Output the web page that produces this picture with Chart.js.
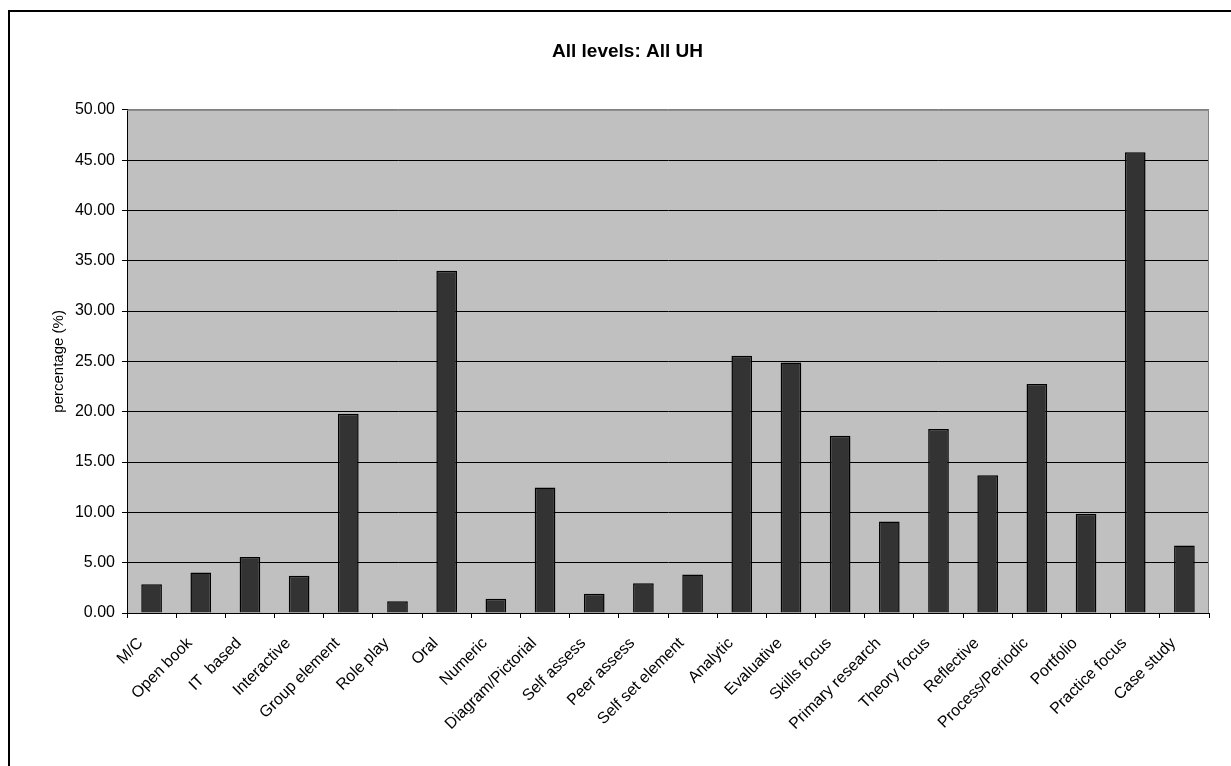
<!DOCTYPE html>
<html>
<head>
<meta charset="utf-8">
<script src="https://cdn.jsdelivr.net/npm/chart.js@4"></script>
<style>
    body { margin: 0; background: #fff; overflow: hidden; }
    #frame {
        position: absolute; left: 0; top: 0; width: 1231px; height: 766px;
    }
    #edge {
        position: absolute; left: 8px; top: 10px; width: 1300px; height: 900px;
        border-left: 2px solid #000; border-top: 2px solid #000;
        pointer-events: none;
    }
</style>
</head>
<body>
<div id="frame"><canvas id="uh-chart" width="1231" height="766"></canvas></div>
<div id="edge"></div>
<script>
    const categories = ['M/C', 'Open book', 'IT  based', 'Interactive', 'Group element', 'Role play', 'Oral',
        'Numeric', 'Diagram/Pictorial', 'Self assess', 'Peer assess', 'Self set element', 'Analytic',
        'Evaluative', 'Skills focus', 'Primary research', 'Theory focus', 'Reflective', 'Process/Periodic',
        'Portfolio', 'Practice focus', 'Case study'];
    const percentages = [2.85, 4.03, 5.57, 3.69, 19.80, 1.17, 34.00,
        1.41, 12.48, 1.91, 2.95, 3.83, 25.57,
        24.90, 17.60, 9.09, 18.29, 13.69, 22.75,
        9.87, 45.77, 6.71];
    const yTicks = [0, 5, 10, 15, 20, 25, 30, 35, 40, 45, 50];

    // plot area background and grey frame on top/right
    const plotBox = {
        id: 'plotBox',
        beforeDraw(chart) {
            const { ctx, chartArea: a } = chart;
            ctx.save();
            ctx.fillStyle = '#c0c0c0';
            ctx.fillRect(a.left, a.top, a.right - a.left, a.bottom - a.top);
            ctx.restore();
        },
        afterDatasetsDraw(chart) {
            const { ctx, chartArea: a } = chart;
            ctx.save();
            ctx.strokeStyle = '#808080';
            ctx.lineWidth = 1;
            ctx.beginPath();
            ctx.moveTo(a.left, a.top + 0.5);
            ctx.lineTo(a.right - 0.5, a.top + 0.5);
            ctx.lineTo(a.right - 0.5, a.bottom);
            ctx.stroke();
            ctx.restore();
        }
    };

    Chart.defaults.font.family = '"Liberation Sans", Arial, sans-serif';
    Chart.defaults.color = '#000';

    const padLeft = 46;
    const ctx = document.getElementById('uh-chart').getContext('2d');
    const chart = new Chart(ctx, {
        type: 'bar',
        data: {
            labels: categories,
            datasets: [{
                data: percentages,
                backgroundColor: '#333333',
                borderColor: '#000',
                borderWidth: 1.5,
                barPercentage: 0.42,
                categoryPercentage: 1
            }]
        },
        options: {
            responsive: false,
            animation: false,
            layout: { padding: { left: padLeft, right: 22, top: 0, bottom: 0 } },
            plugins: {
                legend: { display: false },
                tooltip: { enabled: false },
                title: {
                    display: true,
                    text: 'All levels: All UH',
                    font: { size: 19, weight: 'bold' },
                    color: '#000',
                    padding: { top: 40, bottom: 47 }
                }
            },
            scales: {
                x: {
                    grid: {
                        display: true, drawOnChartArea: false, drawTicks: true,
                        tickLength: 5, color: '#000', offset: true
                    },
                    border: { color: '#000', width: 1 },
                    ticks: {
                        font: { size: 16 }, minRotation: 45, maxRotation: 45,
                        padding: 16, labelOffset: -11, autoSkip: false
                    },
                    afterFit(scale) { scale.height = 766 - 613; }
                },
                y: {
                    min: 0,
                    max: 50,
                    afterBuildTicks(scale) { scale.ticks = yTicks.map(v => ({ value: v })); },
                    grid: {
                        color: ctx => ctx.tick && ctx.tick.value === 50 ? '#808080' : '#000',
                        tickColor: '#000',
                        tickLength: 5,
                        lineWidth: 1
                    },
                    border: { color: '#000', width: 1 },
                    ticks: {
                        font: { size: 16 },
                        padding: 7,
                        callback: v => Number(v).toFixed(2)
                    },
                    title: {
                        display: true,
                        text: 'percentage (%)',
                        font: { size: 15 },
                        padding: { top: 4, bottom: 4 }
                    },
                    afterFit(scale) { scale.width = 127 - padLeft; }
                }
            }
        },
        plugins: [plotBox]
    });
</script>
</body>
</html>
